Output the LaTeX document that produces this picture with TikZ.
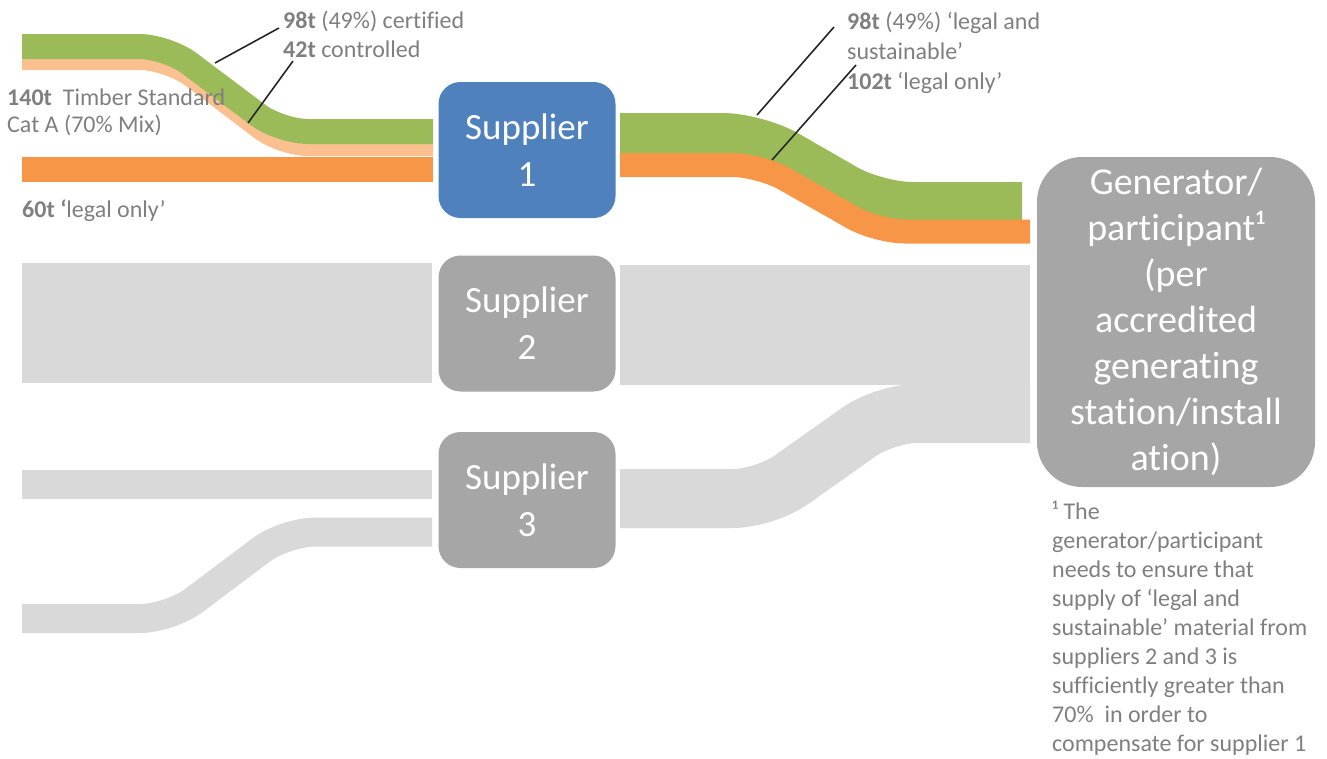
\documentclass[tikz,border=0pt]{standalone}
\usepackage{fontspec}
\setmainfont[Ligatures=NoCommon]{Carlito}
\definecolor{bandgreen}{HTML}{9BBB59}
\definecolor{bandorange}{HTML}{F79646}
\definecolor{bandpeach}{HTML}{FAC090}
\definecolor{bandgrey}{HTML}{D9D9D9}
\definecolor{boxblue}{HTML}{4F81BD}
\definecolor{boxgrey}{HTML}{A6A6A6}
\definecolor{labelgrey}{HTML}{7F7F7F}

\begin{document}
\begin{tikzpicture}[x=1pt, y=-1pt,
    band/.style={line cap=butt, rounded corners=28pt},
    supplier/.style={rounded corners=22pt, minimum width=177pt, minimum height=136pt,
      inner sep=0pt, text=white, align=center, font=\fontsize{37}{47}\selectfont},
    generator/.style={rounded corners=45pt, fill=boxgrey, minimum width=278pt, minimum height=330pt,
      inner sep=0pt, text=white, align=center, font=\fontsize{38}{46}\selectfont},
    lbl/.style={anchor=base west, inner sep=0pt, text=labelgrey, font=\fontsize{24}{29}\selectfont},
    note/.style={anchor=north west, inner sep=0pt, text=labelgrey, align=left, font=\fontsize{24}{29}\selectfont},
    leader/.style={draw=black!85, line width=1.6pt}]
    \useasboundingbox (0,0) rectangle (1327,758);

    % flows into supplier 1
    \draw[band, bandpeach, line width=12pt] (22,64) -- (167,64) -- (280,150) -- (433,150);
    \draw[band, bandgreen, line width=25pt] (22,46.5) -- (167,46.5) -- (280,131.5) -- (433,131.5);
    \draw[band, bandorange, line width=25pt] (22,169.5) -- (433,169.5);

    % flows out of supplier 1
    \draw[band, bandgreen, line width=44pt, rounded corners=35pt] (620,135) -- (757,135) -- (877,204) -- (1022,204);
    \draw[band, bandorange, line width=24pt] (620,165) -- (760,165) -- (877,231.5) -- (1030,231.5);

    % supplier 2
    \draw[band, bandgrey, line width=120pt] (22,323) -- (432,323);
    \draw[band, bandgrey, line width=120pt] (620,325) -- (1030,325);

    % supplier 3
    \draw[band, bandgrey, line width=29pt] (22,484) -- (432,484);
    \draw[band, bandgrey, line width=29pt, rounded corners=30pt] (22,618.5) -- (170,618.5) -- (285,532) -- (432,532);
    \draw[band, bandgrey, line width=59pt, rounded corners=32pt] (620,498.5) -- (765,498.5) -- (885,413.5) -- (1030,413.5);

    \node[supplier, fill=boxblue] (sup1) at (527,150) {Supplier\\1};
    \node[supplier, fill=boxgrey] (sup2) at (527,323.5) {Supplier\\2};
    \node[supplier, fill=boxgrey] (sup3) at (527,500) {Supplier\\3};
    \node[generator] (gen) at (1176,322) {Generator/\\participant¹\\(per\\accredited\\generating\\station/install\\ation)};

    \node[lbl] (timber) at (7,105) {\textbf{140t}\ \ Timber Standard};
    \node[lbl] (cata) at (7,132) {Cat A (70\% Mix)};
    \node[lbl] (legal60) at (22,217) {\textbf{60t ‘}legal only’};
    \node[lbl] (cert) at (283,28) {\textbf{98t} (49\%) certified};
    \node[lbl] (ctrl) at (283,57) {\textbf{42t} controlled};
    \node[lbl] (sust1) at (847,29) {\textbf{98t} (49\%) ‘legal and};
    \node[lbl] (sust2) at (847,59) {sustainable’};
    \node[lbl] (legal102) at (847,89) {\textbf{102t} ‘legal only’};

    \coordinate (cert-on) at (215,63);
    \coordinate (ctrl-on) at (248,123);
    \coordinate (sust-on) at (757,115);
    \coordinate (legal-on) at (772,160);

    \draw[leader] (cert-on) -- ([xshift=-4pt]cert.base west);
    \draw[leader] (ctrl-on) -- ([xshift=10pt,yshift=-4pt]ctrl.base west);
    \draw[leader] (sust-on) -- ([xshift=-13pt,yshift=2pt]sust1.base west);
    \draw[leader] (legal-on) -- ([xshift=9pt,yshift=24pt]legal102.base west);

    \node[note] (fn) at (1052,501) {¹ The\\generator/participant\\needs to ensure that\\supply of ‘legal and\\sustainable’ material from\\suppliers 2 and 3 is\\sufficiently greater than\\70\%\ \ in order to\\compensate for supplier 1};

\end{tikzpicture}
\end{document}
